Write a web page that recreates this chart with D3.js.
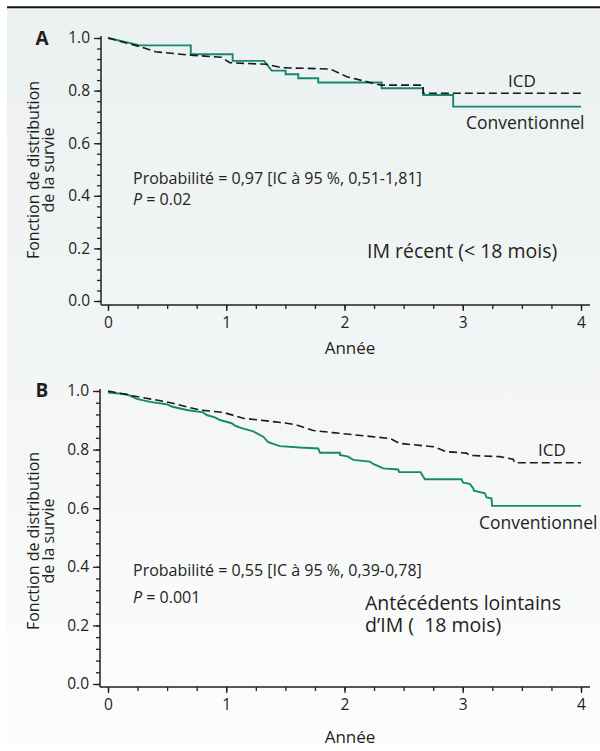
<!DOCTYPE html>
<html>
<head>
<meta charset="utf-8">
<script src="https://cdn.jsdelivr.net/npm/d3@7"></script>
<style>
  body { margin: 0; background: #fff; }
  svg { display: block; }
  text { font-family: "Open Sans", sans-serif; fill: #231f20; }
</style>
</head>
<body>
<svg id="chart" width="600" height="751"></svg>
<script>
//-----------------------------------------------------------------------------
// DATA (years, survival)
var yearTicks     = [0, 1, 2, 3, 4];
var survivalTicks = [0, 0.2, 0.4, 0.6, 0.8, 1.0];

// A : recent MI
var icdRecent  = [[0,1.0],[0.27,0.967],[0.40,0.948],[0.69,0.935],[0.96,0.927],[1.03,0.906],
                  [1.34,0.900],[1.47,0.887],[1.88,0.882],[2.02,0.853],[2.24,0.828],[2.31,0.821],
                  [2.665,0.821],[2.665,0.790],[4.0,0.790]];
var convRecent = [[0,1.0],[0.27,0.972],[0.70,0.972],[0.70,0.938],[1.054,0.938],[1.054,0.913],
                  [1.32,0.913],[1.384,0.876],[1.502,0.876],[1.502,0.862],[1.609,0.862],[1.609,0.847],
                  [1.778,0.847],[1.778,0.831],[2.314,0.831],[2.314,0.809],[2.665,0.809],[2.665,0.783],
                  [2.919,0.783],[2.919,0.739],[4.0,0.739]];

// B : remote MI
var icdRemote  = [[0,1.0],[0.214,0.983],[0.496,0.963],[0.778,0.935],[0.975,0.927],[1.144,0.907],
                  [1.342,0.898],[1.511,0.890],[1.595,0.884],[1.736,0.865],[1.90,0.858],[2.384,0.838],
                  [2.468,0.821],[2.75,0.810],[2.863,0.793],[3.032,0.788],[3.06,0.780],[3.314,0.776],
                  [3.426,0.767],[3.44,0.755],[4.0,0.755]];
var convRemote = [[0,0.995],[0.158,0.989],[0.243,0.973],[0.355,0.963],[0.496,0.955],[0.538,0.947],
                  [0.665,0.935],[0.806,0.927],[0.834,0.918],[0.904,0.910],[0.947,0.901],[1.046,0.890],
                  [1.073,0.882],[1.130,0.873],[1.228,0.862],[1.313,0.844],[1.355,0.825],[1.454,0.812],
                  [1.623,0.807],[1.778,0.804],[1.792,0.789],[1.961,0.789],[1.961,0.782],[2.031,0.776],
                  [2.074,0.765],[2.215,0.759],[2.243,0.751],[2.327,0.736],[2.454,0.732],[2.462,0.723],
                  [2.643,0.723],[2.665,0.708],[2.680,0.699],[2.990,0.699],[3.003,0.687],[3.06,0.683],
                  [3.088,0.668],[3.094,0.660],[3.187,0.651],[3.201,0.637],[3.243,0.634],[3.248,0.608],
                  [4.0,0.608]];

var panelLetters = ["A", "B"];
var statLines    = [["Probabilité = 0,97 [IC à 95 %, 0,51-1,81]", "0.02"],
                    ["Probabilité = 0,55 [IC à 95 %, 0,39-0,78]", "0.001"]];
var groupTitles  = [["IM récent (< 18 mois)"],
                    ["Antécédents lointains", "d\u2019IM (  18 mois)"]];
var seriesNames  = ["ICD", "Conventionnel"];
var xTitle       = "Année";
var yTitle       = ["Fonction de distribution", "de la survie"];

//-----------------------------------------------------------------------------
// LAYOUT
var GREEN = "#148a6d", INK = "#231f20";

var panels = [
  { icd: icdRecent, conv: convRecent, y1: 38,  y0: 301, axisX: 101, axisY: 305,
    letterY: 45, statY: 183.5, pGap: 21.5, titleX: 367, titleY: 258,
    icdLab: [508, 87], convLab: [466, 129], yTitleY: 170, xTitleY: 354 },
  { icd: icdRemote, conv: convRemote, y1: 391, y0: 684, axisX: 100, axisY: 687,
    letterY: 397, statY: 576, pGap: 26.5, titleX: 365, titleY: 610,
    icdLab: [538, 456], convLab: [479, 529], yTitleY: 541, xTitleY: 742.5 }
];

var svg = d3.select("#chart");

//-----------------------------------------------------------------------------
// BACKGROUND
var grad = svg.append("defs").append("linearGradient")
  .attr("id", "bg").attr("x1", 0).attr("y1", 0).attr("x2", 0).attr("y2", 1);
grad.append("stop").attr("offset", "0%").attr("stop-color", "#ebf0f0");
grad.append("stop").attr("offset", "100%").attr("stop-color", "#fcfcfc");

svg.append("rect").attr("x", 7).attr("y", 9).attr("width", 593).attr("height", 735)
  .attr("fill", "url(#bg)");
svg.append("rect").attr("x", 7).attr("y", 6.3).attr("width", 593).attr("height", 2)
  .attr("fill", "#111");

//-----------------------------------------------------------------------------
// PANELS
var x = d3.scaleLinear().domain([0, 4]).range([108, 581]);

panels.forEach(function(p, i){
  var y = d3.scaleLinear().domain([0, 1]).range([p.y0, p.y1]);
  var g = svg.append("g");

  // axis lines (offset corner like the original)
  g.append("line").attr("x1", p.axisX).attr("x2", p.axisX)
    .attr("y1", y(1) - 2).attr("y2", p.axisY)
    .attr("stroke", INK).attr("stroke-width", 1.5);
  g.append("line").attr("x1", p.axisX).attr("x2", 590)
    .attr("y1", p.axisY).attr("y2", p.axisY)
    .attr("stroke", INK).attr("stroke-width", 1.5);

  // y ticks
  var yMinor = g.append("g").attr("transform", "translate(" + p.axisX + ",0)")
    .call(d3.axisLeft(y).tickValues(d3.range(0, 1.001, 0.04)).tickSize(4).tickFormat(""));
  var yMajor = g.append("g").attr("transform", "translate(" + p.axisX + ",0)")
    .call(d3.axisLeft(y).tickValues(survivalTicks).tickSize(7).tickPadding(4)
      .tickFormat(d3.format(".1f")));

  // x ticks
  var xMinor = g.append("g").attr("transform", "translate(0," + p.axisY + ")")
    .call(d3.axisBottom(x).tickValues(d3.range(0, 4.001, 0.25)).tickSize(4).tickFormat(""));
  var xMajor = g.append("g").attr("transform", "translate(0," + p.axisY + ")")
    .call(d3.axisBottom(x).tickValues(yearTicks).tickSize(6).tickPadding(6)
      .tickFormat(d3.format("d")));

  [yMinor, yMajor, xMinor, xMajor].forEach(function(a){
    a.select(".domain").remove();
    a.selectAll("line").attr("stroke", INK).attr("stroke-width", 1.3);
    a.selectAll("text").attr("fill", INK).style("font-size", "15.5px")
      .style("font-family", '"Open Sans", sans-serif');
  });

  // curves
  var line = d3.line().x(function(d){ return x(d[0]); }).y(function(d){ return y(d[1]); });
  g.append("path").datum(p.conv).attr("d", line)
    .attr("fill", "none").attr("stroke", GREEN).attr("stroke-width", 1.9);
  g.append("path").datum(p.icd).attr("d", line)
    .attr("fill", "none").attr("stroke", "#1a1a1a").attr("stroke-width", 1.6)
    .attr("stroke-dasharray", "8,4");

  // panel letter
  g.append("text").attr("x", 42).attr("y", p.letterY).attr("text-anchor", "middle")
    .style("font-size", "19px").style("font-weight", "bold").text(panelLetters[i]);

  // axis titles
  g.append("text").attr("x", 350).attr("y", p.xTitleY).attr("text-anchor", "middle")
    .style("font-size", "17px").text(xTitle);
  yTitle.forEach(function(t, k){
    g.append("text")
      .attr("transform", "translate(" + (39 + k * 15) + "," + p.yTitleY + ") rotate(-90)")
      .attr("text-anchor", "middle").style("font-size", "16px").text(t);
  });

  // statistics
  g.append("text").attr("x", 133).attr("y", p.statY).style("font-size", "16px")
    .text(statLines[i][0]);
  var pt = g.append("text").attr("x", 133).attr("y", p.statY + p.pGap)
    .style("font-size", "16px");
  pt.append("tspan").style("font-style", "italic").text("P");
  pt.append("tspan").text(" = " + statLines[i][1]);

  // group title (one text, one tspan per line)
  var gt = g.append("text").attr("x", p.titleX).attr("y", p.titleY)
    .style("font-size", "19.5px").style("white-space", "pre");
  groupTitles[i].forEach(function(t, k){
    gt.append("tspan").attr("x", p.titleX).attr("y", p.titleY + k * 21.7).text(t);
  });

  // series labels
  g.append("text").attr("x", p.icdLab[0]).attr("y", p.icdLab[1])
    .style("font-size", "17px").text(seriesNames[0]);
  g.append("text").attr("x", p.convLab[0]).attr("y", p.convLab[1])
    .style("font-size", "17.5px").text(seriesNames[1]);
});
</script>
</body>
</html>
